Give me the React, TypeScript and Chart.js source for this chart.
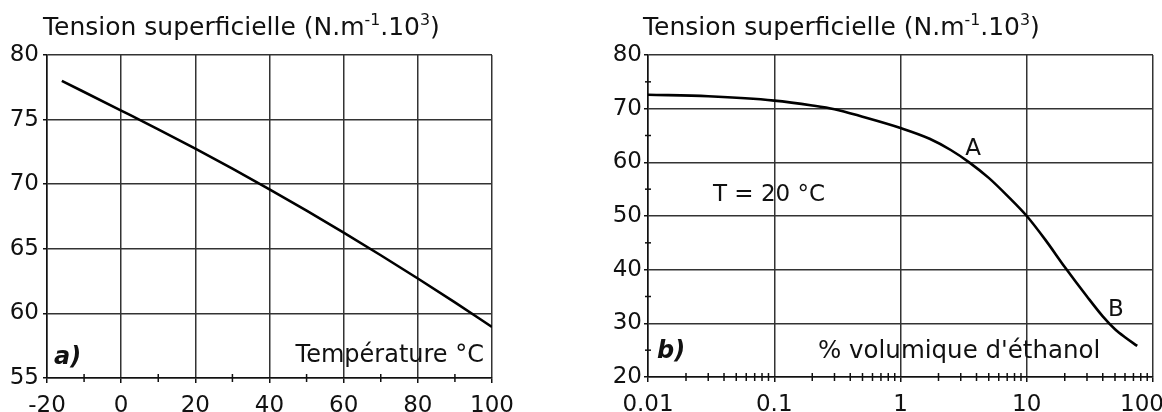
import React, { useEffect, useRef } from "react";
import { Chart, registerables } from "chart.js";

Chart.register(...registerables);

// ---------- data ----------
const tempC = [-16, 0, 10, 20, 30, 40, 50, 60, 70, 80, 90, 100];
const tensionWater = [78.0, 75.7, 74.25, 72.75, 71.2, 69.6, 67.95, 66.25, 64.5, 62.7, 60.85, 58.95];

const ethanolPct = [0.01, 0.03, 0.1, 0.2, 0.3, 0.5, 1, 1.7, 2.5, 3.5, 5, 7, 10, 14, 20, 30, 40, 50, 60, 75];
const tensionEthanol = [72.6, 72.3, 71.5, 70.6, 69.9, 68.5, 66.4, 64.4, 62.3, 60.0, 57.1, 53.8, 50.0, 45.6, 40.5, 35.0, 31.3, 28.9, 27.4, 25.8];

const xTicksA = [-20, 0, 20, 40, 60, 80, 100];
const yTicksA = [55, 60, 65, 70, 75, 80];
const xMinorA = [-10, 10, 30, 50, 70, 90];

const xTicksB = [0.01, 0.1, 1, 10, 100];
const xTickLabelsB = ["0.01", "0.1", "1", "10", "100   "];
const yTicksB = [20, 30, 40, 50, 60, 70, 80];
const yMinorB = [25, 35, 45, 55, 65, 75];
const xMinorMultB = [2, 3, 4, 5, 6, 7, 8, 9];

const titleParts = [
  { t: "Tension superficielle (N.m", sup: false },
  { t: "-1", sup: true },
  { t: ".10", sup: false },
  { t: "3", sup: true },
  { t: ")", sup: false },
];

const FONT = '"DejaVu Sans", sans-serif';
const FS = 23;
const GRID = "#333";

function drawTitle(ctx: CanvasRenderingContext2D, x: number, baseline: number, size: number) {
  let cx = x;
  ctx.fillStyle = "#111";
  ctx.textAlign = "left";
  ctx.textBaseline = "alphabetic";
  for (const p of titleParts) {
    const s = p.sup ? size * 0.63 : size;
    ctx.font = `${s}px ${FONT}`;
    const y = p.sup ? baseline - size * 0.4 : baseline;
    ctx.fillText(p.t, cx, y);
    cx += ctx.measureText(p.t).width;
  }
}

function tickLine(ctx: CanvasRenderingContext2D, x1: number, y1: number, x2: number, y2: number) {
  ctx.beginPath();
  ctx.moveTo(x1, y1);
  ctx.lineTo(x2, y2);
  ctx.stroke();
}

const decorA = {
  id: "decorA",
  afterDraw(chart: any) {
    const { ctx, chartArea: a, scales } = chart;
    ctx.save();
    ctx.strokeStyle = "#111";
    ctx.lineWidth = 1.5;
    for (const v of xMinorA) {
      const x = scales.x.getPixelForValue(v);
      tickLine(ctx, x, a.bottom - 4, x, a.bottom + 4);
    }
    drawTitle(ctx, 43, 35, 25);
    ctx.fillStyle = "#111";
    ctx.font = `italic bold 24px ${FONT}`;
    ctx.textAlign = "left";
    ctx.textBaseline = "alphabetic";
    ctx.fillText("a)", a.left + 7, a.bottom - 14);
    ctx.font = `24px ${FONT}`;
    ctx.textAlign = "right";
    ctx.fillText("Température °C", a.right - 8, a.bottom - 16);
    ctx.restore();
  },
};

const decorB = {
  id: "decorB",
  afterDraw(chart: any) {
    const { ctx, chartArea: a, scales } = chart;
    ctx.save();
    ctx.strokeStyle = "#111";
    ctx.lineWidth = 1.5;
    for (let d = 0; d < xTicksB.length - 1; d++) {
      for (const m of xMinorMultB) {
        const x = scales.x.getPixelForValue(xTicksB[d] * m);
        tickLine(ctx, x, a.bottom - 4, x, a.bottom + 4);
      }
    }
    for (const v of yMinorB) {
      const y = scales.y.getPixelForValue(v);
      tickLine(ctx, a.left - 3, y, a.left + 3, y);
    }
    drawTitle(ctx, 62, 35, 25);
    ctx.fillStyle = "#111";
    ctx.font = `italic bold 24px ${FONT}`;
    ctx.textAlign = "left";
    ctx.textBaseline = "alphabetic";
    ctx.fillText("b)", a.left + 9, a.bottom - 19);
    ctx.font = `24.5px ${FONT}`;
    ctx.textAlign = "left";
    ctx.fillText("% volumique d'éthanol", a.left + 170, a.bottom - 19);
    ctx.font = `${FS}px ${FONT}`;
    ctx.fillText("T = 20 °C", a.left + 65, a.top + 146);
    ctx.textAlign = "center";
    ctx.fillText("A", a.left + 325, a.top + 100);
    ctx.fillText("B", a.left + 468, a.top + 261);
    ctx.restore();
  },
};

const tickFont = { family: FONT, size: FS };

function makeA(canvas: HTMLCanvasElement) {
  return new Chart(canvas, {
    type: "line",
    data: {
      datasets: [
        {
          data: tempC.map((t, i) => ({ x: t, y: tensionWater[i] })),
          borderColor: "#000",
          borderWidth: 2.6,
          pointRadius: 0,
          tension: 0.4,
          cubicInterpolationMode: "monotone",
          fill: false,
        },
      ],
    },
    options: {
      animation: false,
      responsive: false,
      devicePixelRatio: 1,
      layout: { padding: { left: 0, top: 55, right: 89, bottom: 0 } },
      plugins: { legend: { display: false }, tooltip: { enabled: false }, title: { display: false } },
      scales: {
        x: {
          type: "linear",
          min: -20,
          max: 100,
          afterBuildTicks: (s: any) => {
            s.ticks = xTicksA.map((v) => ({ value: v }));
          },
          afterFit: (s: any) => {
            s.height = 34;
            s.paddingLeft = 0;
            s.paddingRight = 0;
          },
          grid: { color: GRID, lineWidth: 1.5, tickLength: 5, tickColor: "#111" },
          border: { display: true, color: "#111", width: 1.5 },
          ticks: { font: tickFont, color: "#111", padding: 9, maxRotation: 0, autoSkip: false },
        },
        y: {
          type: "linear",
          min: 55,
          max: 80,
          afterBuildTicks: (s: any) => {
            s.ticks = yTicksA.map((v) => ({ value: v }));
          },
          afterFit: (s: any) => {
            s.width = 47;
            s.paddingTop = 0;
            s.paddingBottom = 0;
          },
          grid: { color: GRID, lineWidth: 1.5, tickLength: 4, tickColor: "#111" },
          border: { display: true, color: "#111", width: 1.5 },
          ticks: { font: tickFont, color: "#111", padding: 4, autoSkip: false },
        },
      },
    },
    plugins: [decorA],
  } as any);
}

function makeB(canvas: HTMLCanvasElement) {
  return new Chart(canvas, {
    type: "line",
    data: {
      datasets: [
        {
          data: ethanolPct.map((p, i) => ({ x: p, y: tensionEthanol[i] })),
          borderColor: "#000",
          borderWidth: 2.6,
          pointRadius: 0,
          tension: 0.4,
          cubicInterpolationMode: "monotone",
          fill: false,
        },
      ],
    },
    options: {
      animation: false,
      responsive: false,
      devicePixelRatio: 1,
      layout: { padding: { left: 0, top: 55, right: 9, bottom: 0 } },
      plugins: { legend: { display: false }, tooltip: { enabled: false }, title: { display: false } },
      scales: {
        x: {
          type: "logarithmic",
          min: 0.01,
          max: 100,
          afterBuildTicks: (s: any) => {
            s.ticks = xTicksB.map((v) => ({ value: v, major: true }));
          },
          afterFit: (s: any) => {
            s.height = 35;
            s.paddingLeft = 0;
            s.paddingRight = 0;
          },
          grid: { color: GRID, lineWidth: 1.5, tickLength: 5, tickColor: "#111" },
          border: { display: true, color: "#111", width: 1.5 },
          ticks: {
            font: tickFont,
            color: "#111",
            padding: 9,
            maxRotation: 0,
            autoSkip: false,
            callback: (_v: any, i: number) => xTickLabelsB[i],
          },
        },
        y: {
          type: "linear",
          min: 20,
          max: 80,
          afterBuildTicks: (s: any) => {
            s.ticks = yTicksB.map((v) => ({ value: v }));
          },
          afterFit: (s: any) => {
            s.width = 67;
            s.paddingTop = 0;
            s.paddingBottom = 0;
          },
          grid: { color: GRID, lineWidth: 1.5, tickLength: 4, tickColor: "#111" },
          border: { display: true, color: "#111", width: 1.5 },
          ticks: { font: tickFont, color: "#111", padding: 2, autoSkip: false },
        },
      },
    },
    plugins: [decorB],
  } as any);
}

export default function App() {
  const refA = useRef<HTMLCanvasElement>(null);
  const refB = useRef<HTMLCanvasElement>(null);
  useEffect(() => {
    const a = makeA(refA.current!);
    const b = makeB(refB.current!);
    return () => {
      a.destroy();
      b.destroy();
    };
  }, []);
  return (
    <div style={{ position: "fixed", left: 0, top: 0, width: 1162, height: 412, background: "#fff", overflow: "hidden" }}>
      <canvas ref={refA} width={581} height={412} style={{ position: "absolute", left: 0, top: 0, width: 581, height: 412 }} />
      <canvas ref={refB} width={581} height={412} style={{ position: "absolute", left: 581, top: 0, width: 581, height: 412 }} />
    </div>
  );
}
